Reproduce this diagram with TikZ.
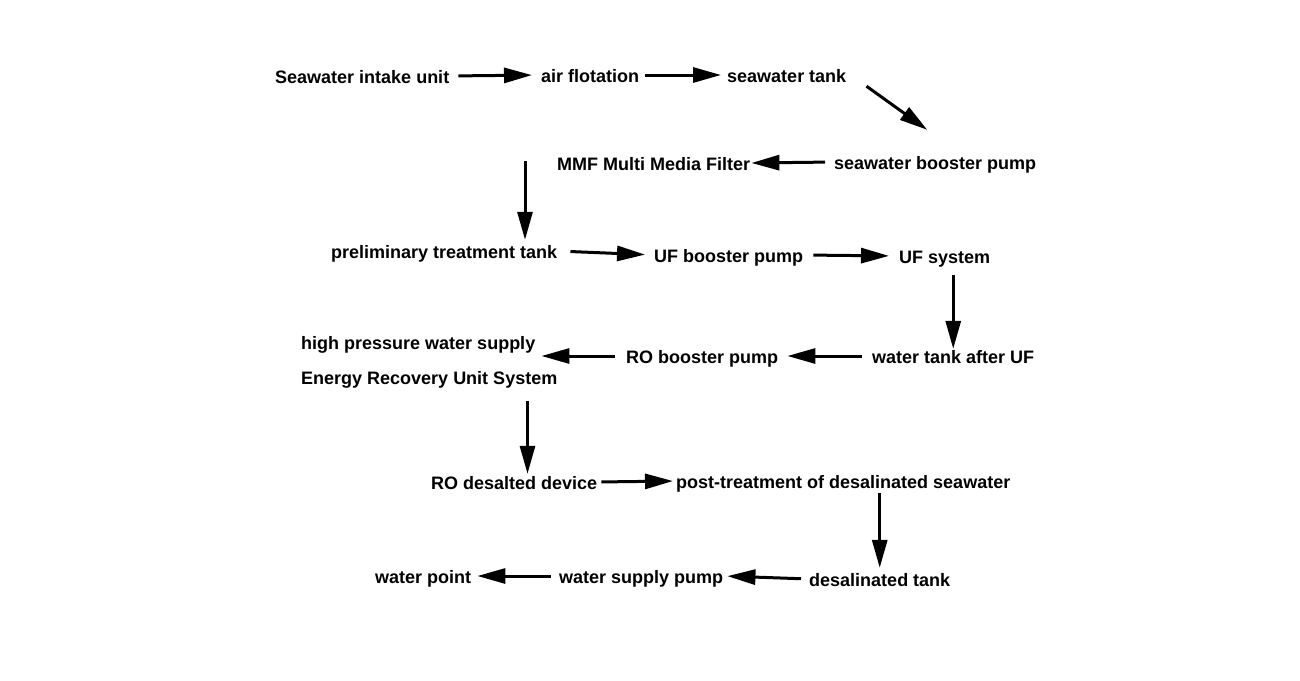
\documentclass[tikz,border=0pt]{standalone}
\usepackage{fontspec}
\setmainfont{Liberation Sans}
\usetikzlibrary{arrows.meta}
\usetikzlibrary{calc}

\begin{document}
\begin{tikzpicture}[x=1pt,y=-1pt,
        stage/.style={anchor=base west,inner sep=0pt,text height=14pt,text depth=0pt,
            font=\bfseries\fontsize{18}{22}\selectfont},
        flow/.style={line width=3pt,-{Triangle[length=28pt,width=15pt]}}]
            \useasboundingbox (0,0) rectangle (1300,680);
            \node[stage] (intake) at (275,83) {Seawater intake unit};
            \node[stage] (flot) at (541,82) {air flotation};
            \node[stage] (stank) at (727,82) {seawater tank};
            \node[stage] (sbp) at (834,169) {seawater booster pump};
            \node[stage] (mmf) at (557,170) {MMF Multi Media Filter};
            \node[stage] (pre) at (331,258) {preliminary treatment tank};
            \node[stage] (ufbp) at (654,262) {UF booster pump};
            \node[stage] (ufs) at (899,263) {UF system};
            \node[stage] (wtuf) at (872,363) {water tank after UF};
            \node[stage] (robp) at (626,363) {RO booster pump};
            \node[stage] (hp) at (301,349) {high pressure water supply};
            \node[stage] (eru) at (301,384) {Energy Recovery Unit System};
            \node[stage] (rodd) at (431,489) {RO desalted device};
            \node[stage] (ptd) at (676,488) {post-treatment of desalinated seawater};
            \node[stage] (dt) at (809,586) {desalinated tank};
            \node[stage] (wsp) at (559,583) {water supply pump};
            \node[stage] (wp) at (375,583) {water point};

            \draw[flow,shorten <=9pt,shorten >=9pt] (intake.east) -- (flot.west);
            \draw[flow,shorten <=6pt,shorten >=6pt] (flot.east) -- (stank.west);
            \draw[flow] ([xshift=20pt,yshift=-4pt]stank.south east) -- ([xshift=-8pt,yshift=25pt]sbp.north);
            \draw[flow,shorten <=9pt,shorten >=1pt] (sbp.west) -- (mmf.east);
            \draw[flow,shorten >=4pt] ([xshift=-32pt,yshift=2pt]mmf.west) -- ([xshift=-32pt]mmf.west |- pre.north);
            \draw[flow,shorten <=13pt,shorten >=9pt] (pre.east) -- (ufbp.west);
            \draw[flow,shorten <=10pt,shorten >=10pt] (ufbp.east) -- (ufs.west);
            \draw[flow,shorten <=12pt] (ufs.south -| wtuf.north) -- (wtuf.north);
            \draw[flow,shorten <=10pt,shorten >=9pt] (wtuf.west) -- (robp.east);
            \draw[flow,shorten <=11pt,shorten >=6pt] (robp.west) -- (robp.west -| hp.east);
            \draw[flow,shorten <=17pt,shorten >=1pt] ([xshift=-30pt]eru.south east) -- ([xshift=-30pt]eru.south east |- rodd.north);
            \draw[flow,shorten <=4pt,shorten >=3pt] (rodd.east) -- (ptd.west);
            \draw[flow,shorten <=5pt,shorten >=4pt] (ptd.south -| dt.north) -- (dt.north);
            \draw[flow,shorten <=8pt,shorten >=4pt] (dt.west) -- (wsp.east);
            \draw[flow,shorten <=8pt,shorten >=6pt] (wsp.west) -- (wp.east);
        \end{tikzpicture}
\end{document}
